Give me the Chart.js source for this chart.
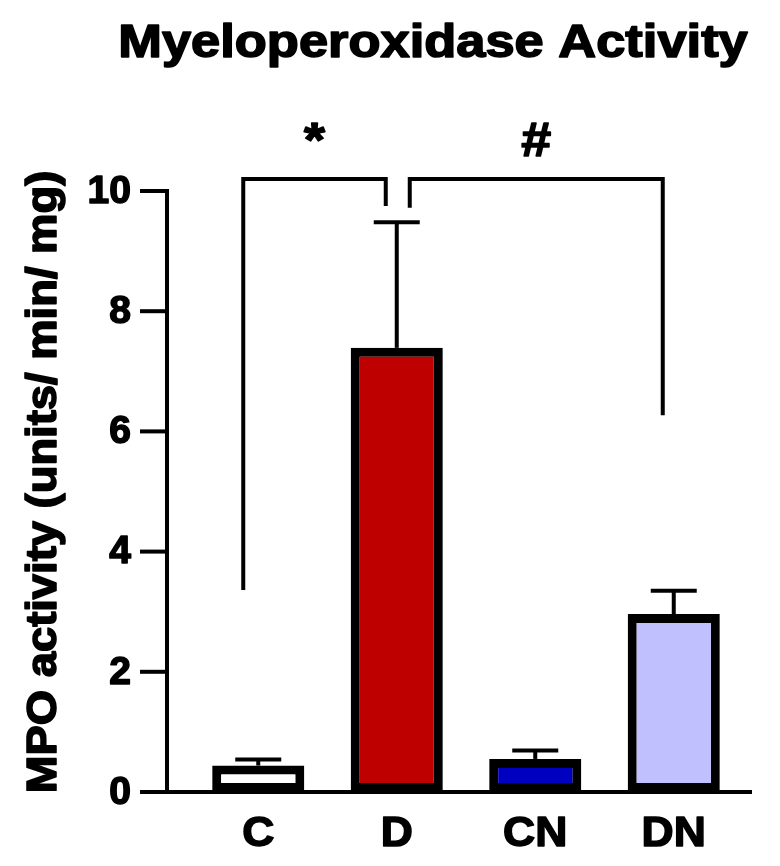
<!DOCTYPE html>
<html><head><meta charset="utf-8">
<script src="https://cdn.jsdelivr.net/npm/chart.js@4"></script>
<style>html,body{margin:0;padding:0;background:#fff}#w{width:780px;height:866px}</style>
</head><body><div id="w"><canvas id="c"></canvas></div>
<script>
const categories = ['C', 'D', 'CN', 'DN'];
const means = [0.44, 7.39, 0.55, 2.96];
const errors = [0.10, 2.09, 0.14, 0.39];
const fillColors = ['#ffffff', '#bf0000', '#0000c0', '#c0c0ff'];
const yTicks = [0, 2, 4, 6, 8, 10];
// brackets: [fromIndex, toIndex, topValue, fromLegEnd, toLegEnd, label]
const brackets = [
  [0, 1, 10.2, 3.36, 9.75, '*'],
  [1, 3, 10.2, 9.72, 6.27, '#']
];
const F = '"Liberation Sans", Arial, sans-serif';

function boldText(ctx, s, x, y, w, sx) {
  ctx.save();
  ctx.translate(x, y); ctx.scale(sx || 1.12, 1);
  ctx.lineWidth = w; ctx.lineJoin = 'round';
  ctx.strokeText(s, 0, 0); ctx.fillText(s, 0, 0);
  ctx.restore();
}

const deco = {
  id: 'deco',
  afterDraw(chart) {
    const ctx = chart.ctx, x = chart.scales.x, y = chart.scales.y;
    const ax = 167, y0 = y.getPixelForValue(0);
    ctx.save();
    ctx.strokeStyle = '#000'; ctx.fillStyle = '#000'; ctx.lineWidth = 4; ctx.lineCap = 'butt';
    means.forEach((m, i) => {
      const cx = x.getPixelForValue(i), t = y.getPixelForValue(m), e = y.getPixelForValue(m + errors[i]);
      ctx.beginPath(); ctx.moveTo(cx, t); ctx.lineTo(cx, e); ctx.stroke();
      ctx.beginPath(); ctx.moveTo(cx - 23, e); ctx.lineTo(cx + 23, e); ctx.stroke();
    });
    ctx.beginPath(); ctx.moveTo(ax, y.getPixelForValue(10) - 2); ctx.lineTo(ax, y0); ctx.stroke();
    ctx.beginPath(); ctx.moveTo(140, y0); ctx.lineTo(752, y0); ctx.stroke();
    yTicks.forEach(v => {
      const py = y.getPixelForValue(v);
      ctx.lineWidth = 4;
      ctx.beginPath(); ctx.moveTo(140, py); ctx.lineTo(ax, py); ctx.stroke();
    });
    ctx.font = 'bold 39px ' + F; ctx.textAlign = 'right'; ctx.textBaseline = 'middle';
    yTicks.forEach(v => boldText(ctx, String(v), 131, y.getPixelForValue(v) + 1, 1.5, 1.0));
    ctx.font = 'bold 42px ' + F; ctx.textAlign = 'center';
    categories.forEach((c, i) => boldText(ctx, c, x.getPixelForValue(i), 834, 1.5, 1.06));
    brackets.forEach(([a, b, top, la, lb, lab], k) => {
      const xa = x.getPixelForValue(a) + (k === 0 ? -15 : 13), xb = x.getPixelForValue(b) - 11;
      const pt = y.getPixelForValue(top);
      ctx.lineWidth = 4;
      ctx.beginPath();
      ctx.moveTo(xa, y.getPixelForValue(la)); ctx.lineTo(xa, pt); ctx.lineTo(xb, pt); ctx.lineTo(xb, y.getPixelForValue(lb));
      ctx.stroke();
      ctx.font = 'bold 48px ' + F;
      boldText(ctx, lab, (xa + xb) / 2, pt - 36, 1.5);
    });
    ctx.font = 'bold 46px ' + F;
    boldText(ctx, 'Myeloperoxidase Activity', 433, 44, 1.6, 1.14);
    ctx.translate(44, 482); ctx.rotate(-Math.PI / 2);
    ctx.font = 'bold 42px ' + F;
    boldText(ctx, 'MPO activity (units/ min/ mg)', 0, 0, 1.6, 1.08);
    ctx.restore();
  }
};

new Chart(document.getElementById('c'), {
  type: 'bar',
  data: { labels: categories, datasets: [{
    data: means, backgroundColor: fillColors, borderColor: '#000', borderWidth: 9,
    borderSkipped: false, categoryPercentage: 1, barPercentage: 0.665
  }]},
  options: {
    responsive: true, maintainAspectRatio: false, animation: false,
    layout: { padding: { left: 189, right: 37, top: 191, bottom: 74 } },
    plugins: { legend: { display: false }, tooltip: { enabled: false } },
    scales: {
      x: { display: false },
      y: { display: false, min: 0, max: 10 }
    }
  },
  plugins: [deco]
});
</script></body></html>
